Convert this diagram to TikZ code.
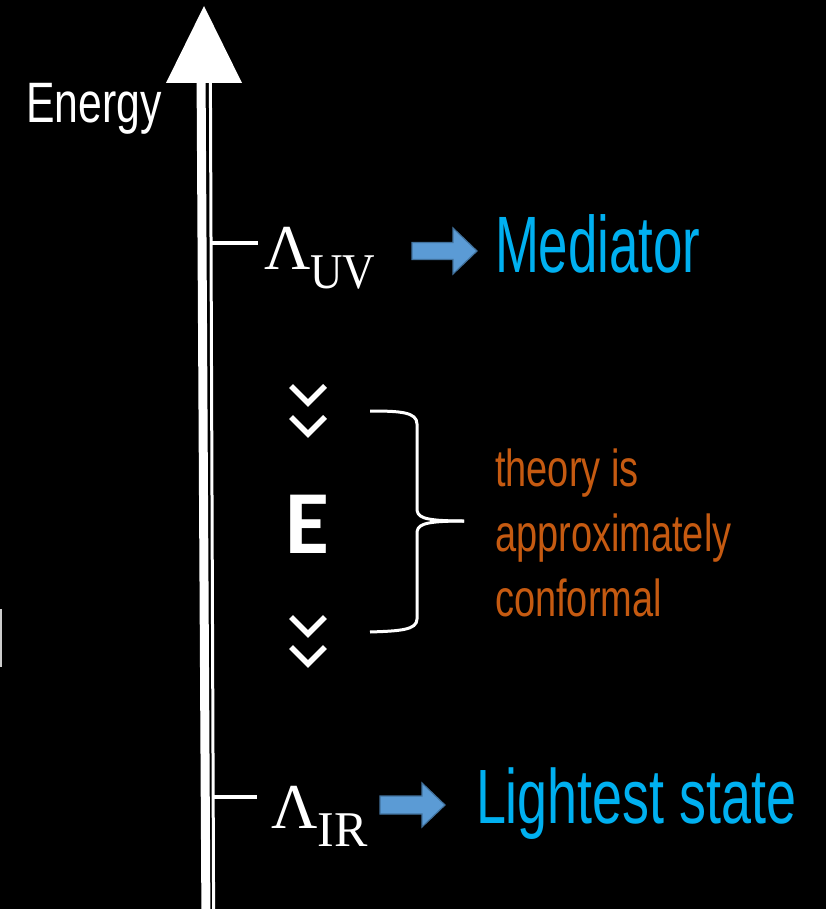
\documentclass[tikz,border=0pt]{standalone}
\usepackage{fontspec}
\newfontfamily\energyfont[FakeStretch=0.75]{Liberation Sans}
\newfontfamily\medfont[FakeStretch=0.66]{Liberation Sans}
\newfontfamily\lightfont[FakeStretch=0.70]{Liberation Sans}
\newfontfamily\notefont[FakeStretch=0.73]{Liberation Sans}
\newfontfamily\scalefont{Liberation Serif}
\newfontfamily\boldE{Carlito}
\definecolor{cyanlabel}{HTML}{00B0F0}
\definecolor{rust}{HTML}{C55A11}
\definecolor{blockfill}{HTML}{5B9BD5}
\definecolor{blockedge}{HTML}{41719C}
\tikzset{
  textlabel/.style={anchor=base west, inner sep=0pt, outer sep=0pt},
  tickline/.style={white, line width=3.3pt},
  chevron/.style={white, line width=5.5pt, miter limit=10},
  blockarrow/.style={fill=blockfill, draw=blockedge, line width=1.2pt, line join=miter},
  bracestyle/.style={white, line width=3pt}
}
\begin{document}
\begin{tikzpicture}[x=1pt, y=-1pt]
\fill[black] (0,0) rectangle (826,909);
\useasboundingbox (0,0) rectangle (826,909);

% energy axis: thick shaft, thin companion line and arrow head
\coordinate (axtop) at (204,6);
\fill[white] (196.6,83) -- (205.6,83) -- (210.4,909) -- (201.4,909) -- cycle;
\draw[white, line width=3pt] (210.4,83) -- (213.6,909);
\fill[white] (166,83) -- (242,83) -- (axtop) -- cycle;

\node[textlabel, font=\energyfont\fontsize{57}{57}\selectfont, text=white] (energy) at (26,123) {Energy};

% scale ticks
\coordinate (uvtick) at (211,243);
\coordinate (irtick) at (213,797);
\draw[tickline] (uvtick) -- ++(47,0);
\draw[tickline] (irtick) -- ++(44,0);

% scale labels
\node[textlabel, text=white, font=\scalefont\fontsize{64}{64}\selectfont] (lamuv) at (264,269)
  {Λ\raisebox{-20pt}{\fontsize{50}{50}\selectfont\scalebox{0.9}[1]{UV}}};
\node[textlabel, text=white, font=\scalefont\fontsize{64}{64}\selectfont] (lamir) at (271,828)
  {Λ\raisebox{-18pt}{\fontsize{50}{50}\selectfont\scalebox{1.0}[1]{IR}}};

% block arrows
\fill[blockarrow] (412,242.5) -- (453,242.5) -- (453,228) -- (477,251) -- (453,274) -- (453,259.5) -- (412,259.5) -- cycle;
\fill[blockarrow] (380,796) -- (422,796) -- (422,783) -- (445,805) -- (422,827) -- (422,814) -- (380,814) -- cycle;

\node[textlabel, text=cyanlabel, font=\medfont\fontsize{80}{80}\selectfont] (mediator) at (495,272) {Mediator};
\node[textlabel, text=cyanlabel, font=\lightfont\fontsize{77}{77}\selectfont] (lightest) at (476,823) {Lightest state};

% hierarchy between the scales
\draw[chevron] (291,386) -- (308,403) -- (325,386);
\draw[chevron] (291,417) -- (308,434) -- (325,417);
\node[textlabel, text=white, font=\boldE\bfseries\fontsize{90}{90}\selectfont] (en) at (285,553) {E};
\draw[chevron] (291,617) -- (308,634) -- (325,617);
\draw[chevron] (291,647) -- (308,664) -- (325,647);

% curly brace
\coordinate (bracetip) at (464,521);
\draw[bracestyle] (370,411) .. controls (400,411) and (417,412) .. (417,424) -- (417,508)
  .. controls (417,517) and (421,521) .. (bracetip);
\draw[bracestyle] (bracetip) .. controls (421,521) and (417,525) .. (417,534) -- (417,619)
  .. controls (417,630) and (400,631) .. (370,632);

\node[anchor=north west, inner sep=0pt, align=left, text=rust, font=\notefont\fontsize{52}{65}\selectfont] (note) at (495,449)
  {theory is\\approximately\\conformal};

% edge mark at the left border
\fill[white!80!black] (0,609) rectangle (2,667);
\end{tikzpicture}
\end{document}
